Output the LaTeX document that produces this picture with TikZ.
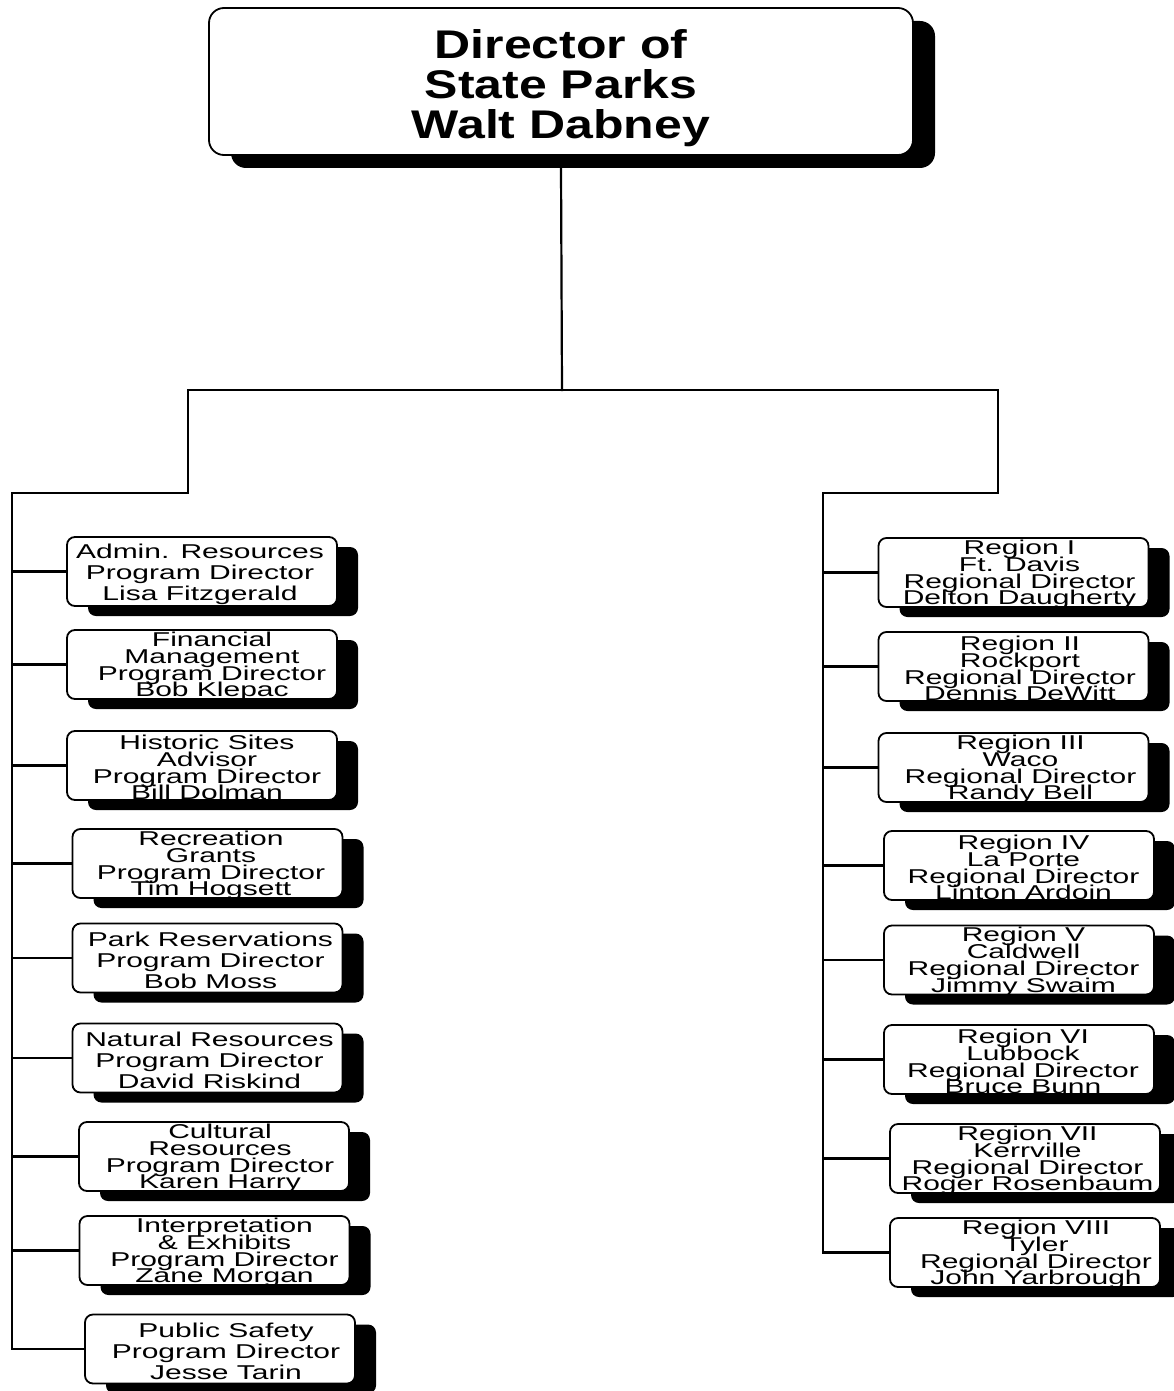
\documentclass[tikz,border=0pt]{standalone}
\usepackage{fontspec}
\setmainfont{Liberation Sans}
\newfontfamily\headfont[FakeStretch=1.25]{Liberation Sans}
\newfontfamily\unitfont[FakeStretch=1.5]{Liberation Sans}
\usetikzlibrary{shadows}
% let stacked lines sit at their baseline distance even when glyphs touch
\newcommand\tightlines{\setlength{\lineskiplimit}{-30pt}}
% box node #1 of text style #2 centred at (#3,#4); text moved #5pt sideways
\newcommand\orgunit[6]{%
  \node[unitbox] (#1) at (#3,#4) {};
  \node[#2,xshift=#5pt] (#1-t) at (#1.center) {#6};
}
\begin{document}
\begin{tikzpicture}[x=1pt,y=-1pt,
  link/.style={line width=2.2pt,line cap=rect},
  unitbox/.style={draw,line width=1.8pt,fill=white,rounded corners=8pt,
    minimum width=270pt,minimum height=69pt,inner sep=0pt,
    drop shadow={shadow xshift=21pt,shadow yshift=-10pt,fill=black,opacity=1,rounded corners=8pt}},
  three/.style={inner sep=0pt,align=center,yshift=-2.5pt,
    font={\unitfont\fontsize{20}{21}\selectfont\tightlines}},
  four/.style={inner sep=0pt,align=center,yshift=-2pt,
    font={\unitfont\fontsize{20}{16.8}\selectfont\tightlines}},
  headbox/.style={draw,line width=1.8pt,fill=white,rounded corners=15pt,
    minimum width=704pt,minimum height=147pt,inner sep=0pt,
    drop shadow={shadow xshift=22pt,shadow yshift=-13pt,fill=black,opacity=1,rounded corners=15pt}},
  headtext/.style={inner sep=0pt,align=center,
    font={\headfont\bfseries\fontsize{40}{40}\selectfont\tightlines}}]
\useasboundingbox (0,0) rectangle (1173,1391);

% Director
\node[headbox] (dir) at (561,81.5) {};
\node[headtext,yshift=-7pt] (dir-t) at (dir.center) {Director of\\State Parks\\Walt Dabney};

% Bus coordinates
\coordinate (split) at (562,390);
\coordinate (ltop) at (188,390);
\coordinate (rtop) at (998,390);
\coordinate (lelbow) at (188,493);
\coordinate (relbow) at (998,493);
\coordinate (lbus) at (12,493);
\coordinate (rbus) at (823,493);

% Program directors
\orgunit{adm}{three}{202}{571.5}{-2}{Admin. Resources\\Program Director\\Lisa Fitzgerald}
\orgunit{fin}{four}{202}{664.5}{10}{Financial\\Management\\Program Director\\Bob Klepac}
\orgunit{his}{four}{202}{765.5}{5}{Historic Sites\\Advisor\\Program Director\\Bill Dolman}
\orgunit{rec}{four}{207.5}{863.5}{3.5}{Recreation\\Grants\\Program Director\\Tim Hogsett}
\orgunit{res}{three}{207.5}{958}{3}{Park Reservations\\Program Director\\Bob Moss}
\orgunit{nat}{three}{207.5}{1058}{2}{Natural Resources\\Program Director\\David Riskind}
\orgunit{cul}{four}{214}{1156.5}{6}{Cultural\\Resources\\Program Director\\Karen Harry}
\orgunit{int}{four}{214.5}{1250.5}{10}{Interpretation\\\& Exhibits\\Program Director\\Zane Morgan}
\orgunit{saf}{three}{220}{1349}{6}{Public Safety\\Program Director\\Jesse Tarin}

% Regional directors
\orgunit{r1}{four}{1013.5}{572.5}{6}{Region I\\Ft. Davis\\Regional Director\\Delton Daugherty}
\orgunit{r2}{four}{1013.5}{666.5}{6.5}{Region II\\Rockport\\Regional Director\\Dennis DeWitt}
\orgunit{r3}{four}{1013.5}{767.5}{7}{Region III\\Waco\\Regional Director\\Randy Bell}
\orgunit{r4}{four}{1019}{865.5}{4.5}{Region IV\\La Porte\\Regional Director\\Linton Ardoin}
\orgunit{r5}{four}{1019}{960}{4.5}{Region V\\Caldwell\\Regional Director\\Jimmy Swaim}
\orgunit{r6}{four}{1019}{1059.5}{4}{Region VI\\Lubbock\\Regional Director\\Bruce Bunn}
\orgunit{r7}{four}{1025}{1158.5}{2.5}{Region VII\\Kerrville\\Regional Director\\Roger Rosenbaum}
\orgunit{r8}{four}{1025}{1252.5}{11}{Region VIII\\Tyler\\Regional Director\\John Yarbrough}

% Connectors
\draw[link] (dir.south |- 0,168) -- (split);
\draw[link] (lelbow) -- (ltop) -- (rtop) -- (relbow);
\draw[link] (lelbow) -- (lbus) -- (lbus |- saf.west) -- (saf.west);
\draw[link] (relbow) -- (rbus) -- (rbus |- r8.west) -- (r8.west);
\foreach \n in {adm,fin,his,rec,res,nat,cul,int}
  \draw[link] (lbus |- \n.west) -- (\n.west);
\foreach \n in {r1,r2,r3,r4,r5,r6,r7}
  \draw[link] (rbus |- \n.west) -- (\n.west);
\end{tikzpicture}
\end{document}
